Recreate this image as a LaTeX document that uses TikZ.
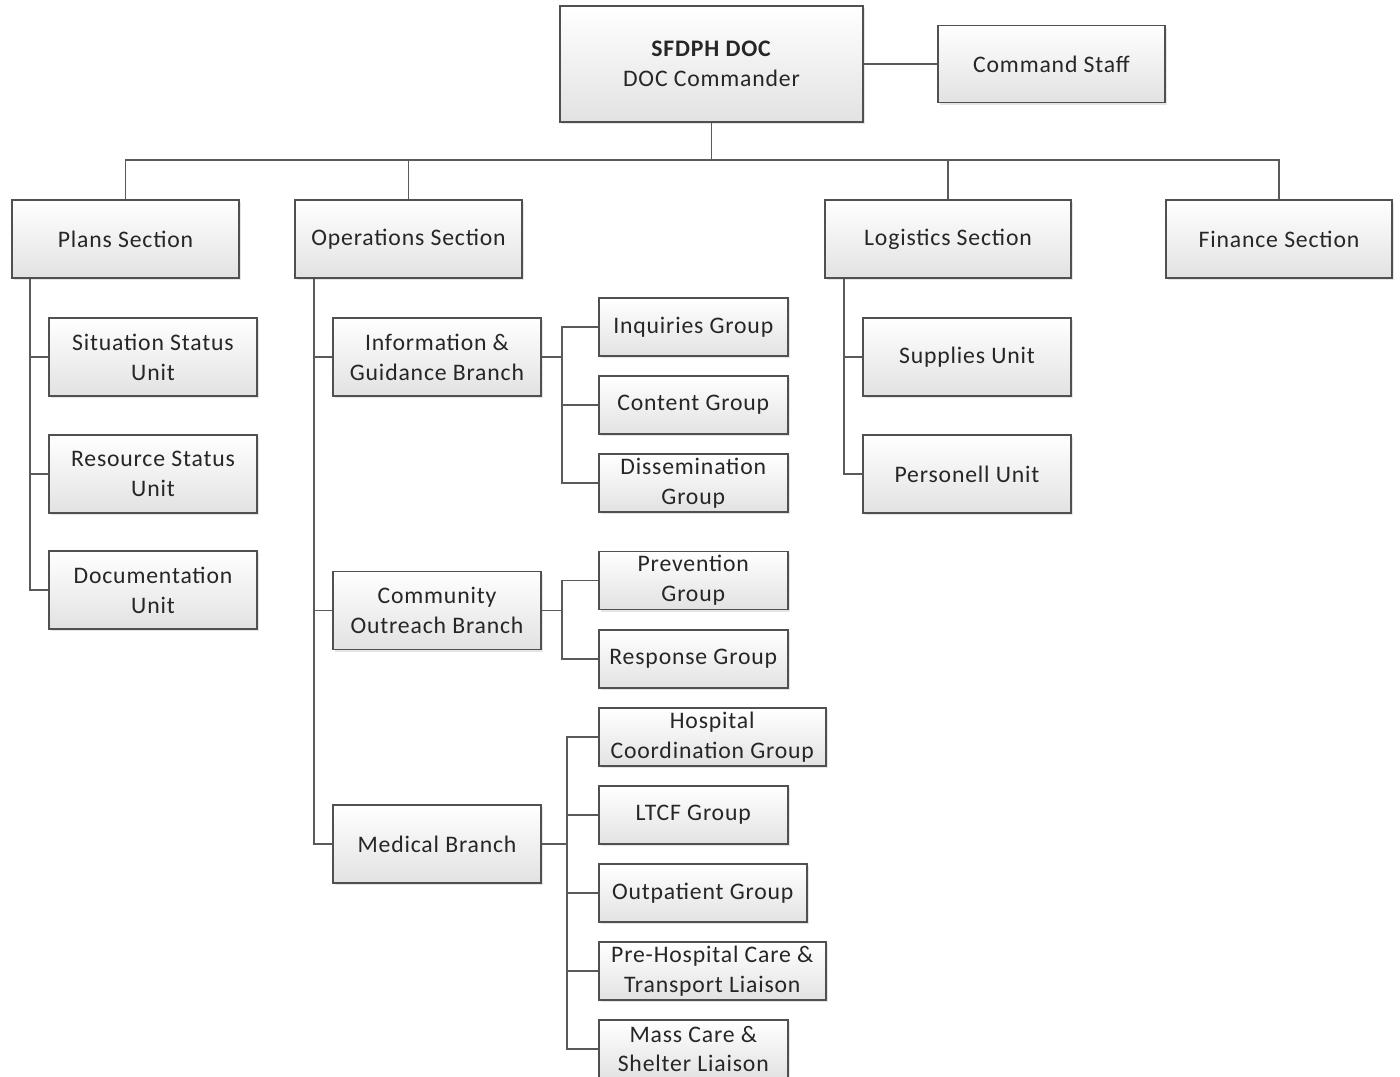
\documentclass[tikz,border=0pt]{standalone}
\usepackage{fontspec}
\setmainfont{Carlito}[LetterSpace=3.5]
\usepackage{tikz}
\usetikzlibrary{positioning,calc,shadows}
\definecolor{BoxLine}{HTML}{505050}
\definecolor{BoxShade}{HTML}{E2E2E2}
\definecolor{BoxText}{HTML}{262626}
\definecolor{LinkGray}{HTML}{5A5A5A}
\tikzset{
  % Base box
  OB/.style={rectangle,draw=BoxLine,line width=0.9pt,
             top color=white,bottom color=BoxShade,
             inner sep=0pt,align=center,text=BoxText,
             font=\fontsize{13.5}{17}\selectfont,
             drop shadow={shadow xshift=1.2pt,shadow yshift=-1.2pt,
                          opacity=0.2,fill=gray}},
  % Size variants
  secB/.style={OB,minimum height=1.56cm},
  unitB/.style={OB,minimum width=4.16cm,minimum height=1.56cm},
  grpB/.style={OB,anchor=west,minimum height=1.16cm},
  % Connector
  link/.style={draw=LinkGray,line width=0.9pt}
}

\begin{document}
\begin{tikzpicture}[x=0.02cm,y=-0.02cm]
  \useasboundingbox (0,0) rectangle (1400,1076);
  \fill[white] (0,0) rectangle (1400,1076);

  % top level
  \node[OB,minimum width=6.06cm,minimum height=2.32cm] (top) at (711.5,64)
       {\textbf{SFDPH DOC}\\DOC Commander};
  \node[OB,minimum width=4.54cm,minimum height=1.54cm] (cmdstaff) at (1051.5,64) {Command Staff};
  \coordinate (bus) at (711.5,160);

  % sections
  \node[secB,minimum width=4.54cm] (plans) at (125.5,239) {Plans Section};
  \node[secB,minimum width=4.54cm] (ops)   at (408.5,239) {Operations Section};
  \node[secB,minimum width=4.92cm] (logi)  at (948,239)   {Logistics Section};
  \node[secB,minimum width=4.52cm] (fin)   at (1279,239)  {Finance Section};

  % plans units
  \node[unitB] (sitstat) at (153,357) {Situation Status\\Unit};
  \node[unitB] (resstat) at (153,474) {Resource Status\\Unit};
  \node[unitB] (docu)    at (153,590) {Documentation\\Unit};

  % operations branches
  \node[unitB] (infobr) at (437,357)   {Information \&\\Guidance Branch};
  \node[unitB] (commbr) at (437,610.5) {Community\\Outreach Branch};
  \node[unitB] (medbr)  at (437,844)   {Medical Branch};

  % groups
  \node[grpB,minimum width=3.78cm] (inq)      at (598,327)   {Inquiries Group};
  \node[grpB,minimum width=3.78cm] (content)  at (598,405)   {Content Group};
  \node[grpB,minimum width=3.78cm] (dissem)   at (598,483)   {Dissemination\\Group};
  \node[grpB,minimum width=3.78cm] (prev)     at (598,580.5) {Prevention\\Group};
  \node[grpB,minimum width=3.78cm] (resp)     at (598,659)   {Response Group};
  \node[grpB,minimum width=4.54cm] (hosp)     at (598,737)   {Hospital\\Coordination Group};
  \node[grpB,minimum width=3.78cm] (ltcf)     at (598,815)   {LTCF Group};
  \node[grpB,minimum width=4.16cm] (outpat)   at (598,893)   {Outpatient Group};
  \node[grpB,minimum width=4.54cm] (prehosp)  at (598,971)   {Pre-Hospital Care \&\\Transport Liaison};
  \node[grpB,minimum width=3.78cm] (masscare) at (598,1049)  {Mass Care \&\\Shelter Liaison};

  % logistics units
  \node[unitB] (supply) at (967,357) {Supplies Unit};
  \node[unitB] (persnl) at (967,474) {Personell Unit};

  % rails
  \coordinate (plansrail) at ($(plans.south west)+(19,0)$);
  \coordinate (opsrail)   at ($(ops.south west)+(20,0)$);
  \coordinate (logirail)  at ($(logi.south west)+(20,0)$);

  \draw[link](top.east) -- (cmdstaff.west);
  \draw[link](top.south) -- (bus);
  \draw[link](plans.north) |- (bus) -| (fin.north);
  \draw[link](ops.north) -- (ops.north |- bus);
  \draw[link](logi.north) -- (logi.north |- bus);

  \foreach \c in {sitstat,resstat,docu} \draw[link](plansrail) |- (\c.west);
  \foreach \c in {infobr,commbr,medbr} \draw[link](opsrail) |- (\c.west);
  \foreach \c in {supply,persnl} \draw[link](logirail) |- (\c.west);

  \foreach \c in {inq,content,dissem} \draw[link](infobr.east) -- ++(20,0) |- (\c.west);
  \foreach \c in {prev,resp} \draw[link](commbr.east) -- ++(20,0) |- (\c.west);
  \foreach \c in {hosp,ltcf,outpat,prehosp,masscare} \draw[link](medbr.east) -- ++(25,0) |- (\c.west);
\end{tikzpicture}
\end{document}
